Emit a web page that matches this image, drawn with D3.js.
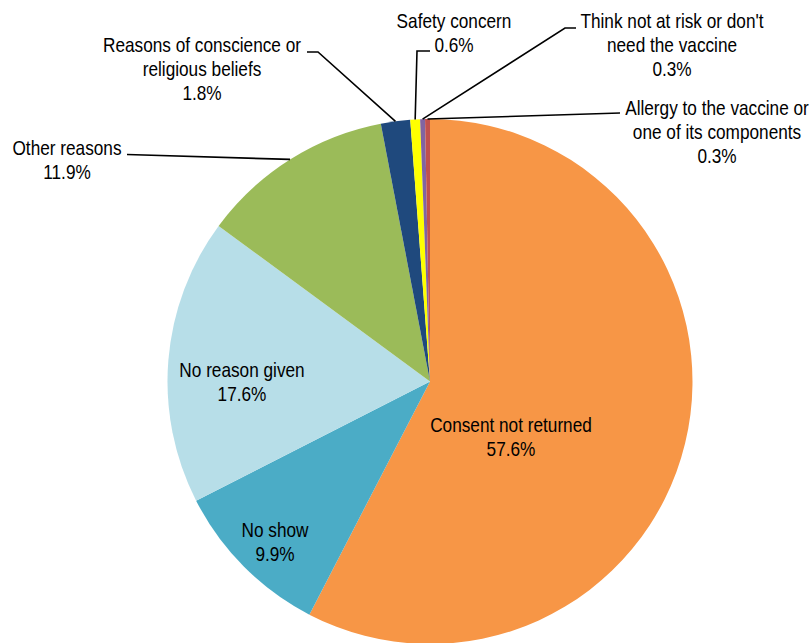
<!DOCTYPE html>
<html>
<head>
<meta charset="utf-8">
<script src="https://cdn.jsdelivr.net/npm/d3@7/dist/d3.min.js"></script>
<style>
  html, body { margin: 0; padding: 0; background: #fff; }
  svg { display: block; }
  text { font-family: "Liberation Sans", Arial, sans-serif; font-size: 21px; fill: #000; }
</style>
</head>
<body>
<svg id="chart" width="811" height="643"></svg>
<script>
// Reasons for not being vaccinated (share of total, %)
const categories = [
  "Consent not returned",
  "No show",
  "No reason given",
  "Other reasons",
  "Reasons of conscience or religious beliefs",
  "Safety concern",
  "Think not at risk or don't need the vaccine",
  "Allergy to the vaccine or one of its components"
];
const values = [57.6, 9.9, 17.6, 11.9, 1.8, 0.6, 0.3, 0.3];
const labelLines = [
  ["Consent not returned"],
  ["No show"],
  ["No reason given"],
  ["Other reasons"],
  ["Reasons of conscience or", "religious beliefs"],
  ["Safety concern"],
  ["Think not at risk or don't", "need the vaccine"],
  ["Allergy to the vaccine or", "one of its components"]
];
const colors = ["#F79646", "#4BACC6", "#B7DEE8", "#9BBB59", "#1F497D", "#FFFF00", "#8064A2", "#C0504D"];

// Layout
const width = 811, height = 643;
const cx = 430, cy = 381.5, radius = 262.5;
const lineHeight = 24;
const narrow = 0.82; // condensed face emulated by horizontal scaling

// Label anchor (centre x, first baseline y) and leader elbow for outside labels
const labelLayout = [
  { x: 511, y: 432 },
  { x: 275, y: 537 },
  { x: 242, y: 377 },
  { x: 67,  y: 155, leader: [[127, 154.5]] },
  { x: 202, y: 52,  leader: [[307, 52], [318, 52]] },
  { x: 454, y: 28,  leader: [[430, 51], [417, 51]] },
  { x: 672, y: 28,  leader: [[576, 28], [565, 28]] },
  { x: 717, y: 115, leader: [[620, 113]] }
];

const svg = d3.select("#chart");
const g = svg.append("g").attr("transform", `translate(${cx},${cy})`);

const pie = d3.pie().sort(null).value(d => d).startAngle(0).endAngle(2 * Math.PI);
const arcs = pie(values);
const arc = d3.arc().innerRadius(0).outerRadius(radius);

g.selectAll("path.slice")
  .data(arcs)
  .join("path")
  .attr("class", "slice")
  .attr("d", arc)
  .attr("fill", (d, i) => colors[i]);

// Leader lines from each small slice's outer edge to its label
const line = d3.line();
arcs.forEach((a, i) => {
  const L = labelLayout[i];
  if (!L.leader) return;
  const mid = (a.startAngle + a.endAngle) / 2;
  const edge = [cx + radius * Math.sin(mid), cy - radius * Math.cos(mid)];
  svg.append("path")
    .attr("d", line([...L.leader, edge]))
    .attr("fill", "none")
    .attr("stroke", "#000")
    .attr("stroke-width", 1.6);
});

// Labels: name lines followed by the percentage
const fmt = d3.format(".1f");
arcs.forEach((a, i) => {
  const L = labelLayout[i];
  const lines = [...labelLines[i], fmt(values[i]) + "%"];
  const t = svg.append("text")
    .attr("text-anchor", "middle")
    .attr("transform", `translate(${L.x},${L.y}) scale(${narrow},1)`);
  lines.forEach((s, k) => {
    t.append("tspan")
      .attr("x", 0)
      .attr("y", k * lineHeight)
      .text(s);
  });
});
</script>
</body>
</html>
